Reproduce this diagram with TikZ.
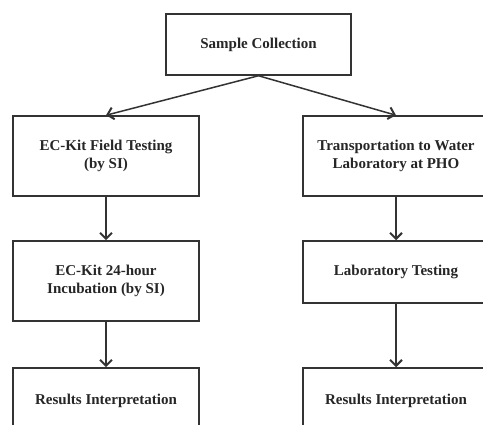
\documentclass[tikz,border=0pt]{standalone}
\usepackage{fontspec}
\setmainfont{Liberation Serif}
\usetikzlibrary{arrows.meta}
\begin{document}
\begin{tikzpicture}[x=1pt,y=-1pt,
  box/.style={draw=black!80, line width=1.5pt, minimum width=186pt, inner sep=0pt,
    align=center, font=\fontsize{15}{18.5}\selectfont\bfseries, text=black!85},
  conn/.style={draw=black!80, line width=1.5pt, -{Straight Barb[length=6pt,width=12pt,line width=2pt]}}]
\useasboundingbox[fill=white] (0,0) rectangle (483,425);
\node[box, minimum width=185pt, minimum height=61pt] (top) at (258.5,44.5) {Sample Collection};
\node[box, minimum height=80pt] (l1) at (106,156) {EC-Kit Field Testing\\(by SI)};
\node[box, minimum height=80pt] (r1) at (396,156) {Transportation to Water\\Laboratory at PHO};
\node[box, minimum height=80pt] (l2) at (106,281) {EC-Kit 24-hour\\Incubation (by SI)};
\node[box, minimum height=62pt] (r2) at (396,272) {Laboratory Testing};
\node[box, minimum height=65pt] (l3) at (106,400.5) {Results Interpretation};
\node[box, minimum height=65pt] (r3) at (396,400.5) {Results Interpretation};
\draw[conn] (top.south) -- (l1.north);
\draw[conn] (top.south) -- (r1.north);
\draw[conn] (l1) -- (l2);
\draw[conn] (r1) -- (r2);
\draw[conn] (l2) -- (l3);
\draw[conn] (r2) -- (r3);
\end{tikzpicture}
\end{document}
